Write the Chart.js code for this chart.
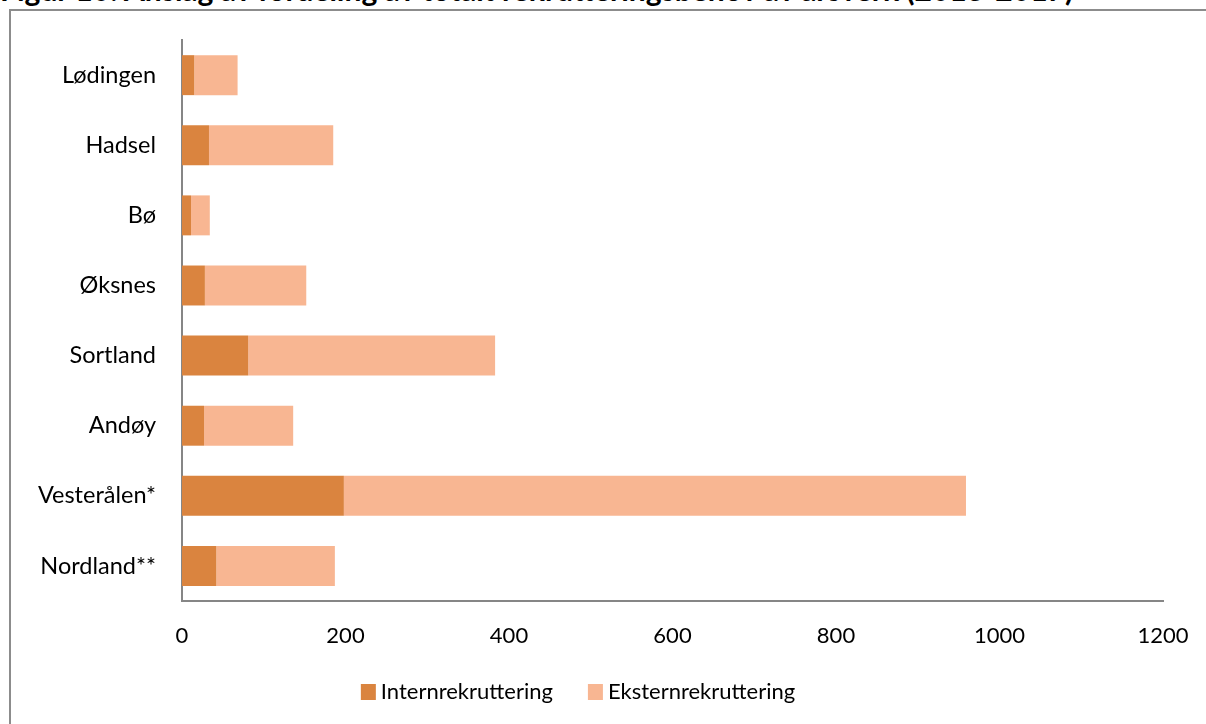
<!DOCTYPE html>
<html>
<head>
<meta charset="utf-8">
<script src="https://cdn.jsdelivr.net/npm/chart.js@4.4.1/dist/chart.umd.min.js"></script>
<style>
  html, body { margin: 0; padding: 0; background: #fff; overflow: hidden; }
  #title {
    position: absolute; left: 0; top: -26px; white-space: nowrap;
    font: bold 30px Lato, sans-serif; line-height: 30px; color: #000;
  }
  #frame {
    position: absolute; left: 9px; top: 9px; width: 1250px; height: 800px;
    border: 2px solid #8c8c8c;
  }
  #wrap { position: absolute; left: 0; top: 0; width: 1206px; height: 724px; }
</style>
</head>
<body>
<div id="title">Figur 10: Anslag av fordeling av totalt rekrutteringsbehov av årsverk (2013-2017)</div>
<div id="frame"></div>
<div id="wrap"><canvas id="chart"></canvas></div>
<script>
// --- data ---
const categories = ['Lødingen', 'Hadsel', 'Bø', 'Øksnes', 'Sortland', 'Andøy', 'Vesterålen*', 'Nordland**'];
const internValues = [15, 33, 11, 28, 81, 27, 198, 42];
const eksternValues = [53, 152, 23, 124, 302, 109, 761, 145];
const xTicks = [0, 200, 400, 600, 800, 1000, 1200];

const FONT = 'Lato, sans-serif';
const AXIS_COLOR = '#868686';

// legend drawn on the canvas under the axis
const bottomLegend = {
  id: 'bottomLegend',
  afterDraw(c) {
    const ctx = c.ctx;
    const ds = c.data.datasets;
    ctx.save();
    ctx.font = '22px ' + FONT;
    ctx.textBaseline = 'middle';
    const box = 15, gap = 5, between = 35;
    const widths = ds.map(d => box + gap + ctx.measureText(d.label).width);
    const total = widths.reduce((a, b) => a + b, 0) + between * (ds.length - 1);
    let x = 578 - total / 2;
    const y = 692;
    ds.forEach((d, i) => {
      ctx.fillStyle = d.backgroundColor;
      ctx.fillRect(x, y - 8, box, 16);
      ctx.fillStyle = '#000';
      ctx.fillText(d.label, x + box + gap, y);
      x += widths[i] + between;
    });
    ctx.restore();
  }
};

new Chart(document.getElementById('chart'), {
  type: 'bar',
  data: {
    labels: categories,
    datasets: [
      { label: 'Internrekruttering', data: internValues, backgroundColor: '#DA843F' },
      { label: 'Eksternrekruttering', data: eksternValues, backgroundColor: '#F8B692' }
    ]
  },
  options: {
    indexAxis: 'y',
    responsive: true,
    maintainAspectRatio: false,
    animation: false,
    layout: { padding: { top: 40, right: 43, left: 0, bottom: 0 } },
    datasets: { bar: { categoryPercentage: 1, barPercentage: 0.57 } },
    scales: {
      x: {
        stacked: true,
        min: 0, max: 1200,
        afterBuildTicks: s => { s.ticks = xTicks.map(v => ({ value: v })); },
        afterFit: s => { s.height = 123; s.paddingLeft = 0; s.paddingRight = 0; },
        grid: { display: false, drawTicks: false },
        border: { display: true, color: AXIS_COLOR, width: 2 },
        ticks: {
          color: '#000', font: { family: FONT, size: 22 }, padding: 22, maxRotation: 0,
          callback: v => String(v)
        }
      },
      y: {
        stacked: true,
        afterFit: s => { s.width = 182; },
        grid: { display: false, drawTicks: false },
        border: { display: true, color: AXIS_COLOR, width: 2 },
        ticks: { color: '#000', font: { family: FONT, size: 23.5 }, padding: 26 }
      }
    },
    plugins: { legend: { display: false }, tooltip: { enabled: false } }
  },
  plugins: [bottomLegend]
});
</script>
</body>
</html>
